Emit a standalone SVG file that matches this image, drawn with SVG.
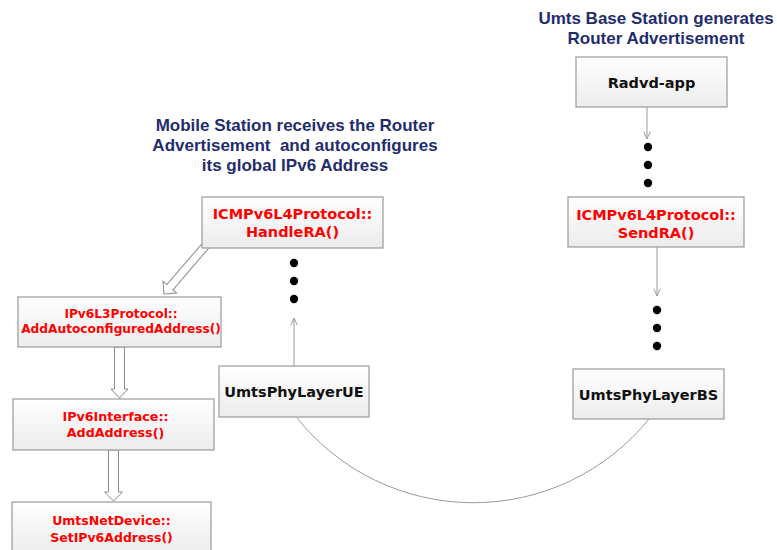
<svg xmlns="http://www.w3.org/2000/svg" width="777" height="550" viewBox="0 0 777 550">
  <defs>
    <linearGradient id="boxFill" x1="0" y1="0" x2="0" y2="1">
      <stop offset="0" stop-color="#ffffff"/>
      <stop offset="1" stop-color="#ececec"/>
    </linearGradient>
    <marker id="openArrow" viewBox="0 0 10 10" refX="10" refY="5" markerWidth="8" markerHeight="8" markerUnits="userSpaceOnUse" orient="auto">
      <path d="M1,1 L10,5 L1,9" fill="none" stroke="#9a9a9a" stroke-width="1.2"/>
    </marker>
    <style>
      .box { fill: url(#boxFill); stroke: #9a9a9a; stroke-width: 1.2; }
      .lbl { font-family: "DejaVu Sans", Verdana, sans-serif; font-weight: bold; text-anchor: middle; }
      .blk { fill: #111111; font-size: 14.5px; }
      .red { fill: #ff0000; }
      .head { font-family: "Liberation Sans", Arial, sans-serif; font-weight: bold; font-size: 17px; fill: #1f2d6e; text-anchor: middle; }
      .thin { fill: none; stroke: #9a9a9a; stroke-width: 1; }
      .hollow { fill: #ffffff; stroke: #8a8a8a; stroke-width: 1; }
      .dot { fill: #000000; }
    </style>
  </defs>

  <rect width="777" height="550" fill="#ffffff"/>

  <!-- headings -->
  <text class="head" x="656" y="24">Umts Base Station generates</text>
  <text class="head" x="656" y="44">Router Advertisement</text>
  <text class="head" x="295" y="131">Mobile Station receives the Router</text>
  <text class="head" x="295" y="151" xml:space="preserve">Advertisement  and autoconfigures</text>
  <text class="head" x="295" y="171">its global IPv6 Address</text>

  <!-- connectors -->
  <g id="connectors">
    <path class="thin" d="M297,418 A226,226 0 0 0 649,419"/>
    <line class="thin" x1="647" y1="107" x2="647" y2="139" marker-end="url(#openArrow)"/>
    <line class="thin" x1="657" y1="247" x2="657" y2="296" marker-end="url(#openArrow)"/>
    <line class="thin" x1="294" y1="366" x2="294" y2="318" marker-end="url(#openArrow)"/>
    <polygon class="hollow" transform="translate(207,244) rotate(130.7)" points="0,-4 57,-4 57,-9 66,0 57,9 57,4 0,4"/>
    <polygon class="hollow" points="114.5,347 114.5,389 111,389 119.5,398 128,389 124.5,389 124.5,347"/>
    <polygon class="hollow" points="108.5,450 108.5,492 104.5,492 113.5,501 122.5,492 118.5,492 118.5,450"/>
  </g>

  <!-- ellipsis dots -->
  <g id="dots-bs-top">
    <circle class="dot" cx="648" cy="147" r="4.2"/>
    <circle class="dot" cx="648" cy="165" r="4.2"/>
    <circle class="dot" cx="648" cy="183" r="4.2"/>
  </g>
  <g id="dots-bs-bottom">
    <circle class="dot" cx="657" cy="310" r="4.2"/>
    <circle class="dot" cx="657" cy="328" r="4.2"/>
    <circle class="dot" cx="657" cy="346" r="4.2"/>
  </g>
  <g id="dots-ue">
    <circle class="dot" cx="294" cy="263" r="4.2"/>
    <circle class="dot" cx="294" cy="281" r="4.2"/>
    <circle class="dot" cx="294" cy="299" r="4.2"/>
  </g>

  <!-- nodes -->
  <g id="radvd-app">
    <rect class="box" x="576" y="57" width="151" height="50"/>
    <text class="lbl blk" x="651.5" y="88">Radvd-app</text>
  </g>
  <g id="send-ra">
    <rect class="box" x="568" y="197" width="176" height="50"/>
    <text class="lbl red" font-size="14.5" x="656" y="220">ICMPv6L4Protocol::</text>
    <text class="lbl red" font-size="14.5" x="656" y="238">SendRA()</text>
  </g>
  <g id="phy-bs">
    <rect class="box" x="573" y="369" width="151" height="50"/>
    <text class="lbl blk" x="648.5" y="400">UmtsPhyLayerBS</text>
  </g>
  <g id="phy-ue">
    <rect class="box" x="219" y="366" width="150" height="51"/>
    <text class="lbl blk" x="294" y="397">UmtsPhyLayerUE</text>
  </g>
  <g id="handle-ra">
    <rect class="box" x="202" y="197" width="181" height="51"/>
    <text class="lbl red" font-size="14.5" x="292.5" y="219">ICMPv6L4Protocol::</text>
    <text class="lbl red" font-size="14.5" x="292.5" y="237">HandleRA()</text>
  </g>
  <g id="l3-protocol">
    <rect class="box" x="18" y="297" width="203" height="50"/>
    <text class="lbl red" font-size="12.2" x="121" y="318">IPv6L3Protocol::</text>
    <text class="lbl red" font-size="12.2" x="121" y="333">AddAutoconfiguredAddress()</text>
  </g>
  <g id="ipv6-interface">
    <rect class="box" x="13" y="399" width="201" height="51"/>
    <text class="lbl red" font-size="12.7" x="115.5" y="421">IPv6Interface::</text>
    <text class="lbl red" font-size="12.7" x="115.5" y="437">AddAddress()</text>
  </g>
  <g id="net-device">
    <rect class="box" x="12" y="502" width="199" height="52"/>
    <text class="lbl red" font-size="12.5" x="111.5" y="525">UmtsNetDevice::</text>
    <text class="lbl red" font-size="12.5" x="111.5" y="542">SetIPv6Address()</text>
  </g>
</svg>
